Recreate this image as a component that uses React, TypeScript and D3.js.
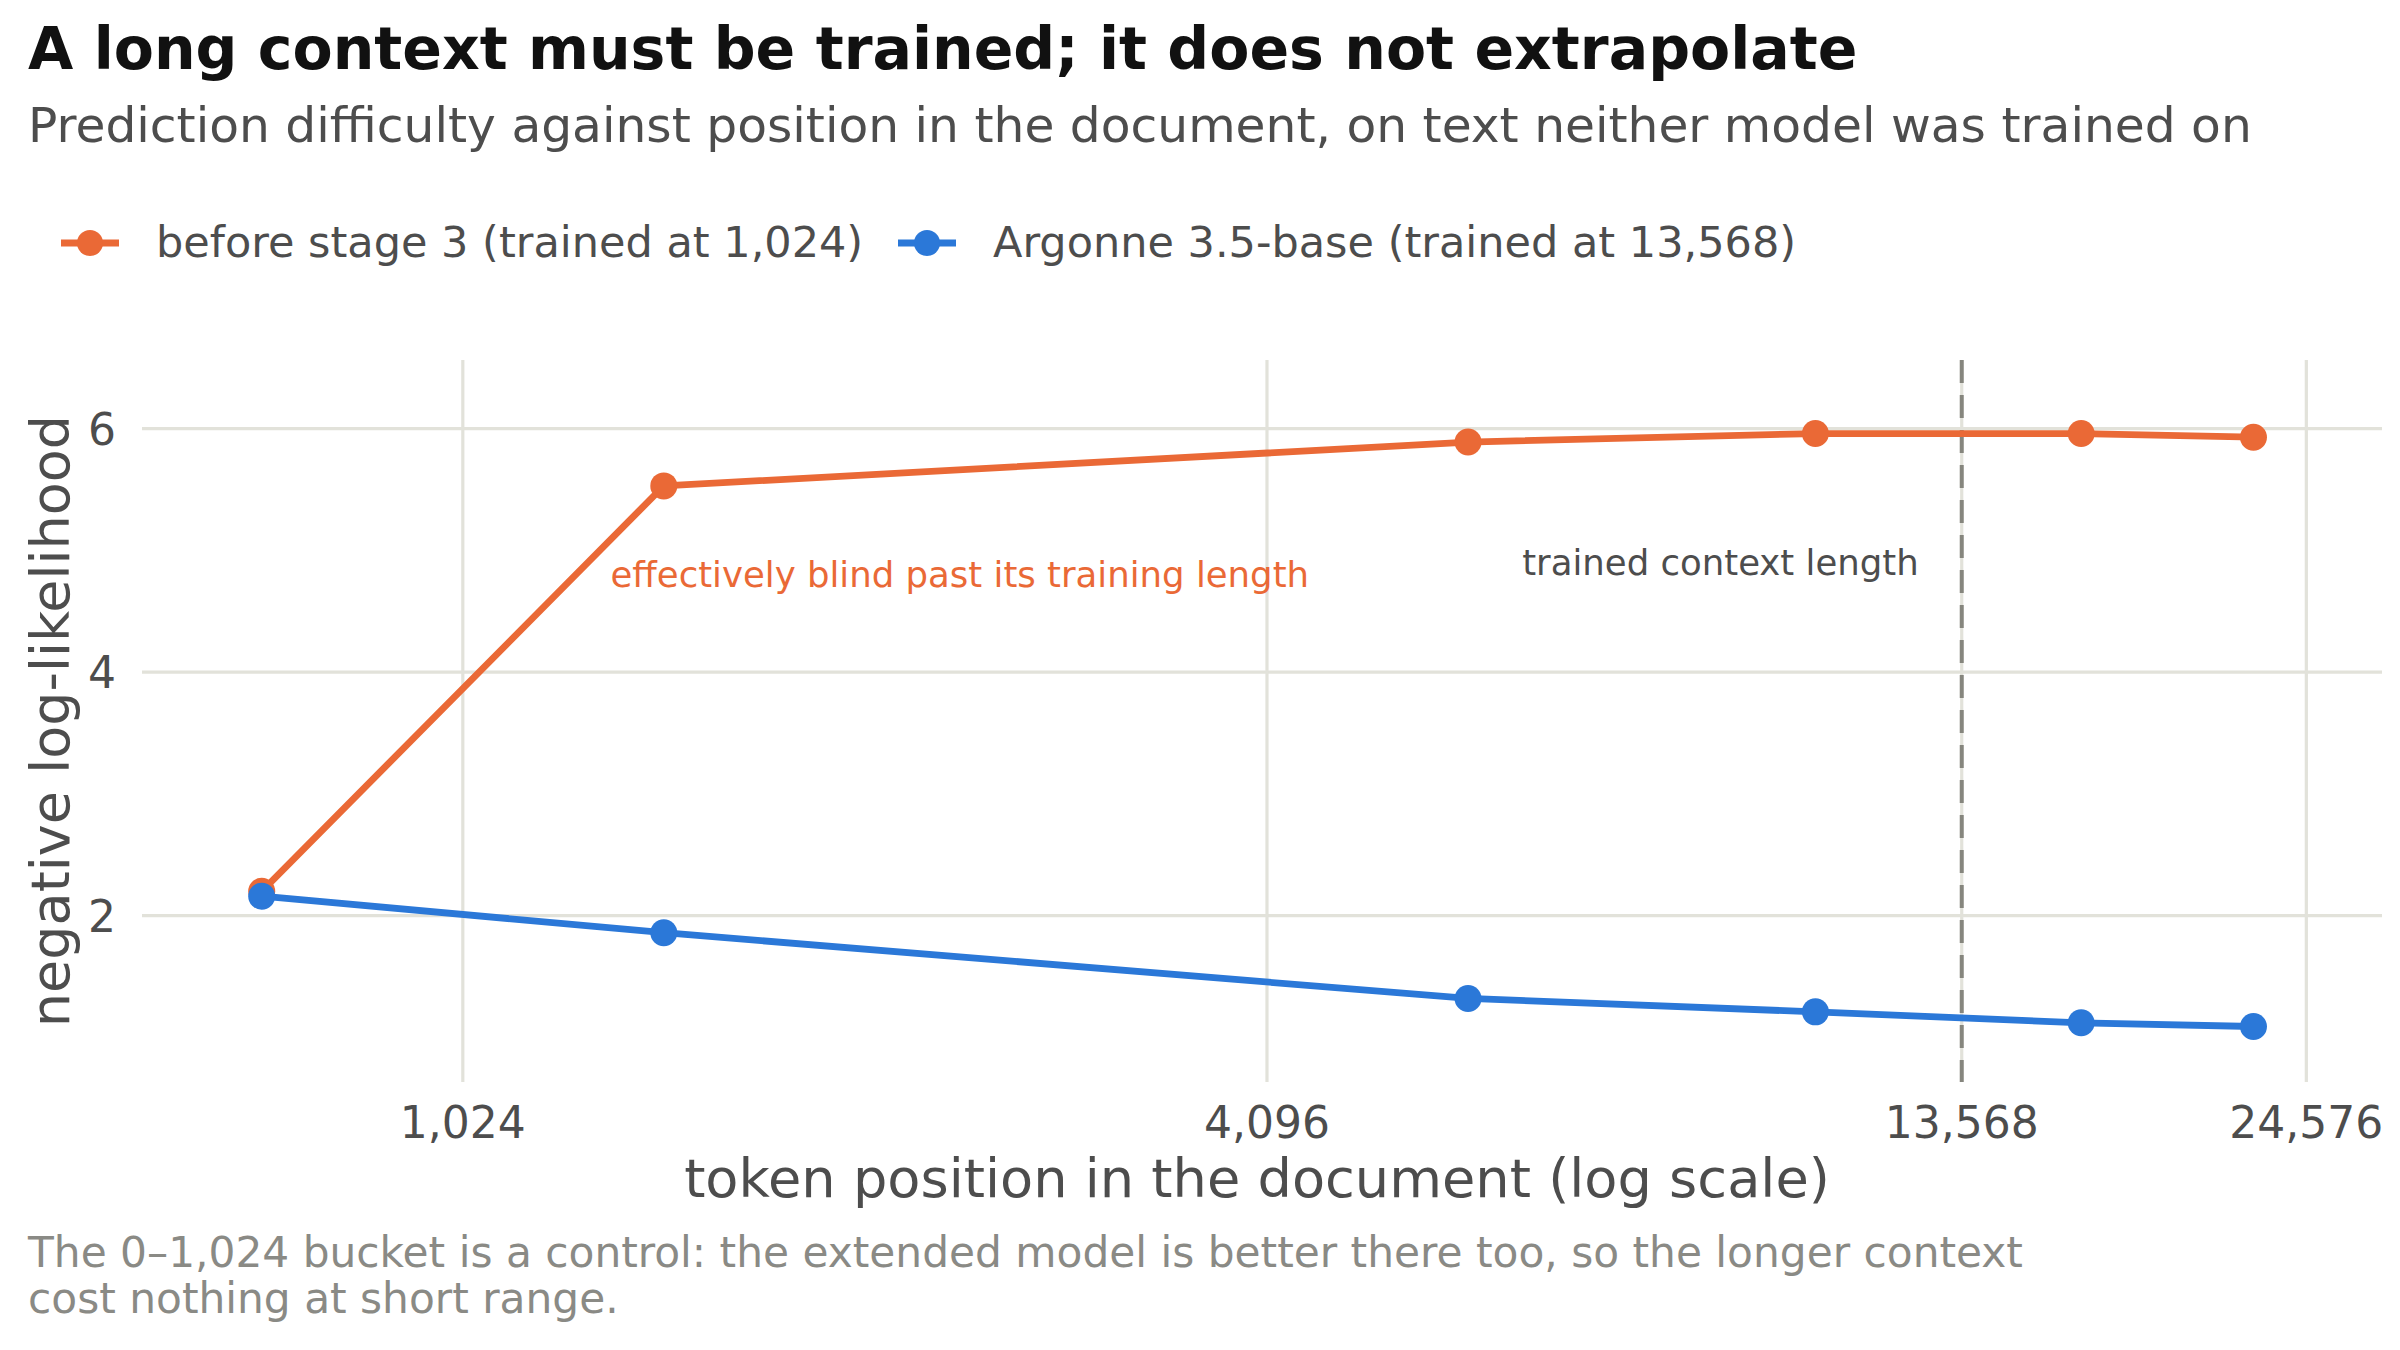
import React from "react";
import * as d3 from "d3";

// ---------- data ----------
const positions = [724, 1448, 5793, 10543, 16670, 22435];
const nllBefore = [2.2, 5.53, 5.89, 5.96, 5.96, 5.93];
const nllArgonne = [2.16, 1.86, 1.32, 1.21, 1.12, 1.09];
const seriesNames = ["before stage 3 (trained at 1,024)", "Argonne 3.5-base (trained at 13,568)"];
const seriesColors = ["#EA6936", "#2B78D8"];
const xTicks = [1024, 4096, 13568, 24576];
const yTicks = [2, 4, 6];
const trainedLength = 13568;

const title = "A long context must be trained; it does not extrapolate";
const subtitle = "Prediction difficulty against position in the document, on text neither model was trained on";
const captionLines = [
  "The 0\u20131,024 bucket is a control: the extended model is better there too, so the longer context",
  "cost nothing at short range.",
];

const W = 2400;
const H = 1350;
const FONT = "'DejaVu Sans', sans-serif";
const plot = { left: 142, right: 2382, top: 360, bottom: 1082 };

export default function App() {
  const x = d3.scaleLog().domain([589, 28000]).range([plot.left, plot.right]);
  const y = d3.scaleLinear().domain([0.634, 6.564]).range([plot.bottom, plot.top]);
  const fmt = d3.format(",");

  const series = [nllBefore, nllArgonne].map((vals, i) => ({
    name: seriesNames[i],
    color: seriesColors[i],
    pts: vals.map((v, j) => [positions[j], v] as [number, number]),
  }));

  const line = d3
    .line<[number, number]>()
    .x((d) => x(d[0]))
    .y((d) => y(d[1]));

  const legendItems = [
    { lineX0: 61, lineX1: 119, textX: 156 },
    { lineX0: 898, lineX1: 956, textX: 993 },
  ];

  return (
    <div style={{ position: "absolute", left: 0, top: 0 }}>
      <svg width={W} height={H} viewBox={`0 0 ${W} ${H}`} style={{ display: "block", background: "#fff" }} fontFamily={FONT}>
        <rect x={0} y={0} width={W} height={H} fill="#fff" />
        {/* title block */}
        <text x={28} y={69} fontSize={58.5} fontWeight="bold" fill="#111">{title}</text>
        <text x={28} y={142} fontSize={48.7} fill="#4d4d4d">{subtitle}</text>

        {/* legend */}
        {series.map((s, i) => (
          <g key={s.name}>
            <line x1={legendItems[i].lineX0} x2={legendItems[i].lineX1} y1={243} y2={243} stroke={s.color} strokeWidth={7} />
            <circle cx={(legendItems[i].lineX0 + legendItems[i].lineX1) / 2} cy={243} r={13} fill={s.color} />
            <text x={legendItems[i].textX} y={257} fontSize={43} fill="#4d4d4d">{s.name}</text>
          </g>
        ))}

        {/* grid */}
        {yTicks.map((t) => (
          <line key={"gy" + t} x1={plot.left} x2={plot.right} y1={y(t)} y2={y(t)} stroke="#e2e2da" strokeWidth={3.2} />
        ))}
        {xTicks.map((t) => (
          <line key={"gx" + t} x1={x(t)} x2={x(t)} y1={plot.top} y2={plot.bottom} stroke="#e2e2da" strokeWidth={3.2} />
        ))}

        {/* trained context marker */}
        <line x1={x(trainedLength)} x2={x(trainedLength)} y1={plot.top} y2={plot.bottom} stroke="#86867e" strokeWidth={4} strokeDasharray="23 12" />

        {/* tick labels */}
        {yTicks.map((t) => (
          <text key={"ty" + t} x={116} y={y(t) + 16} fontSize={44} fill="#4d4d4d" textAnchor="end">{t}</text>
        ))}
        {xTicks.map((t) => (
          <text key={"tx" + t} x={x(t)} y={1138} fontSize={44} fill="#4d4d4d" textAnchor="middle">{fmt(t)}</text>
        ))}

        {/* axis titles */}
        <text x={1257} y={1197} fontSize={54.2} fill="#4d4d4d" textAnchor="middle">token position in the document (log scale)</text>
        <text transform={`translate(69, ${(plot.top + plot.bottom) / 2}) rotate(-90)`} fontSize={54} fill="#4d4d4d" textAnchor="middle">negative log-likelihood</text>

        {/* series */}
        {series.map((s) => (
          <g key={"s" + s.name}>
            <path d={line(s.pts) || ""} fill="none" stroke={s.color} strokeWidth={6.8} strokeLinejoin="round" strokeLinecap="round" />
            {s.pts.map((p, j) => (
              <circle key={j} cx={x(p[0])} cy={y(p[1])} r={13.5} fill={s.color} />
            ))}
          </g>
        ))}

        {/* annotations */}
        <text x={x(1321)} y={y(4.7)} fontSize={35.5} fill={seriesColors[0]}>effectively blind past its training length</text>
        <text x={x(trainedLength) - 43} y={575} fontSize={35.5} fill="#4d4d4d" textAnchor="end">trained context length</text>

        {/* caption */}
        {captionLines.map((c, i) => (
          <text key={"c" + i} x={28} y={1267 + i * 46} fontSize={42.3} fill="#8a8a85">{c}</text>
        ))}
      </svg>
    </div>
  );
}
